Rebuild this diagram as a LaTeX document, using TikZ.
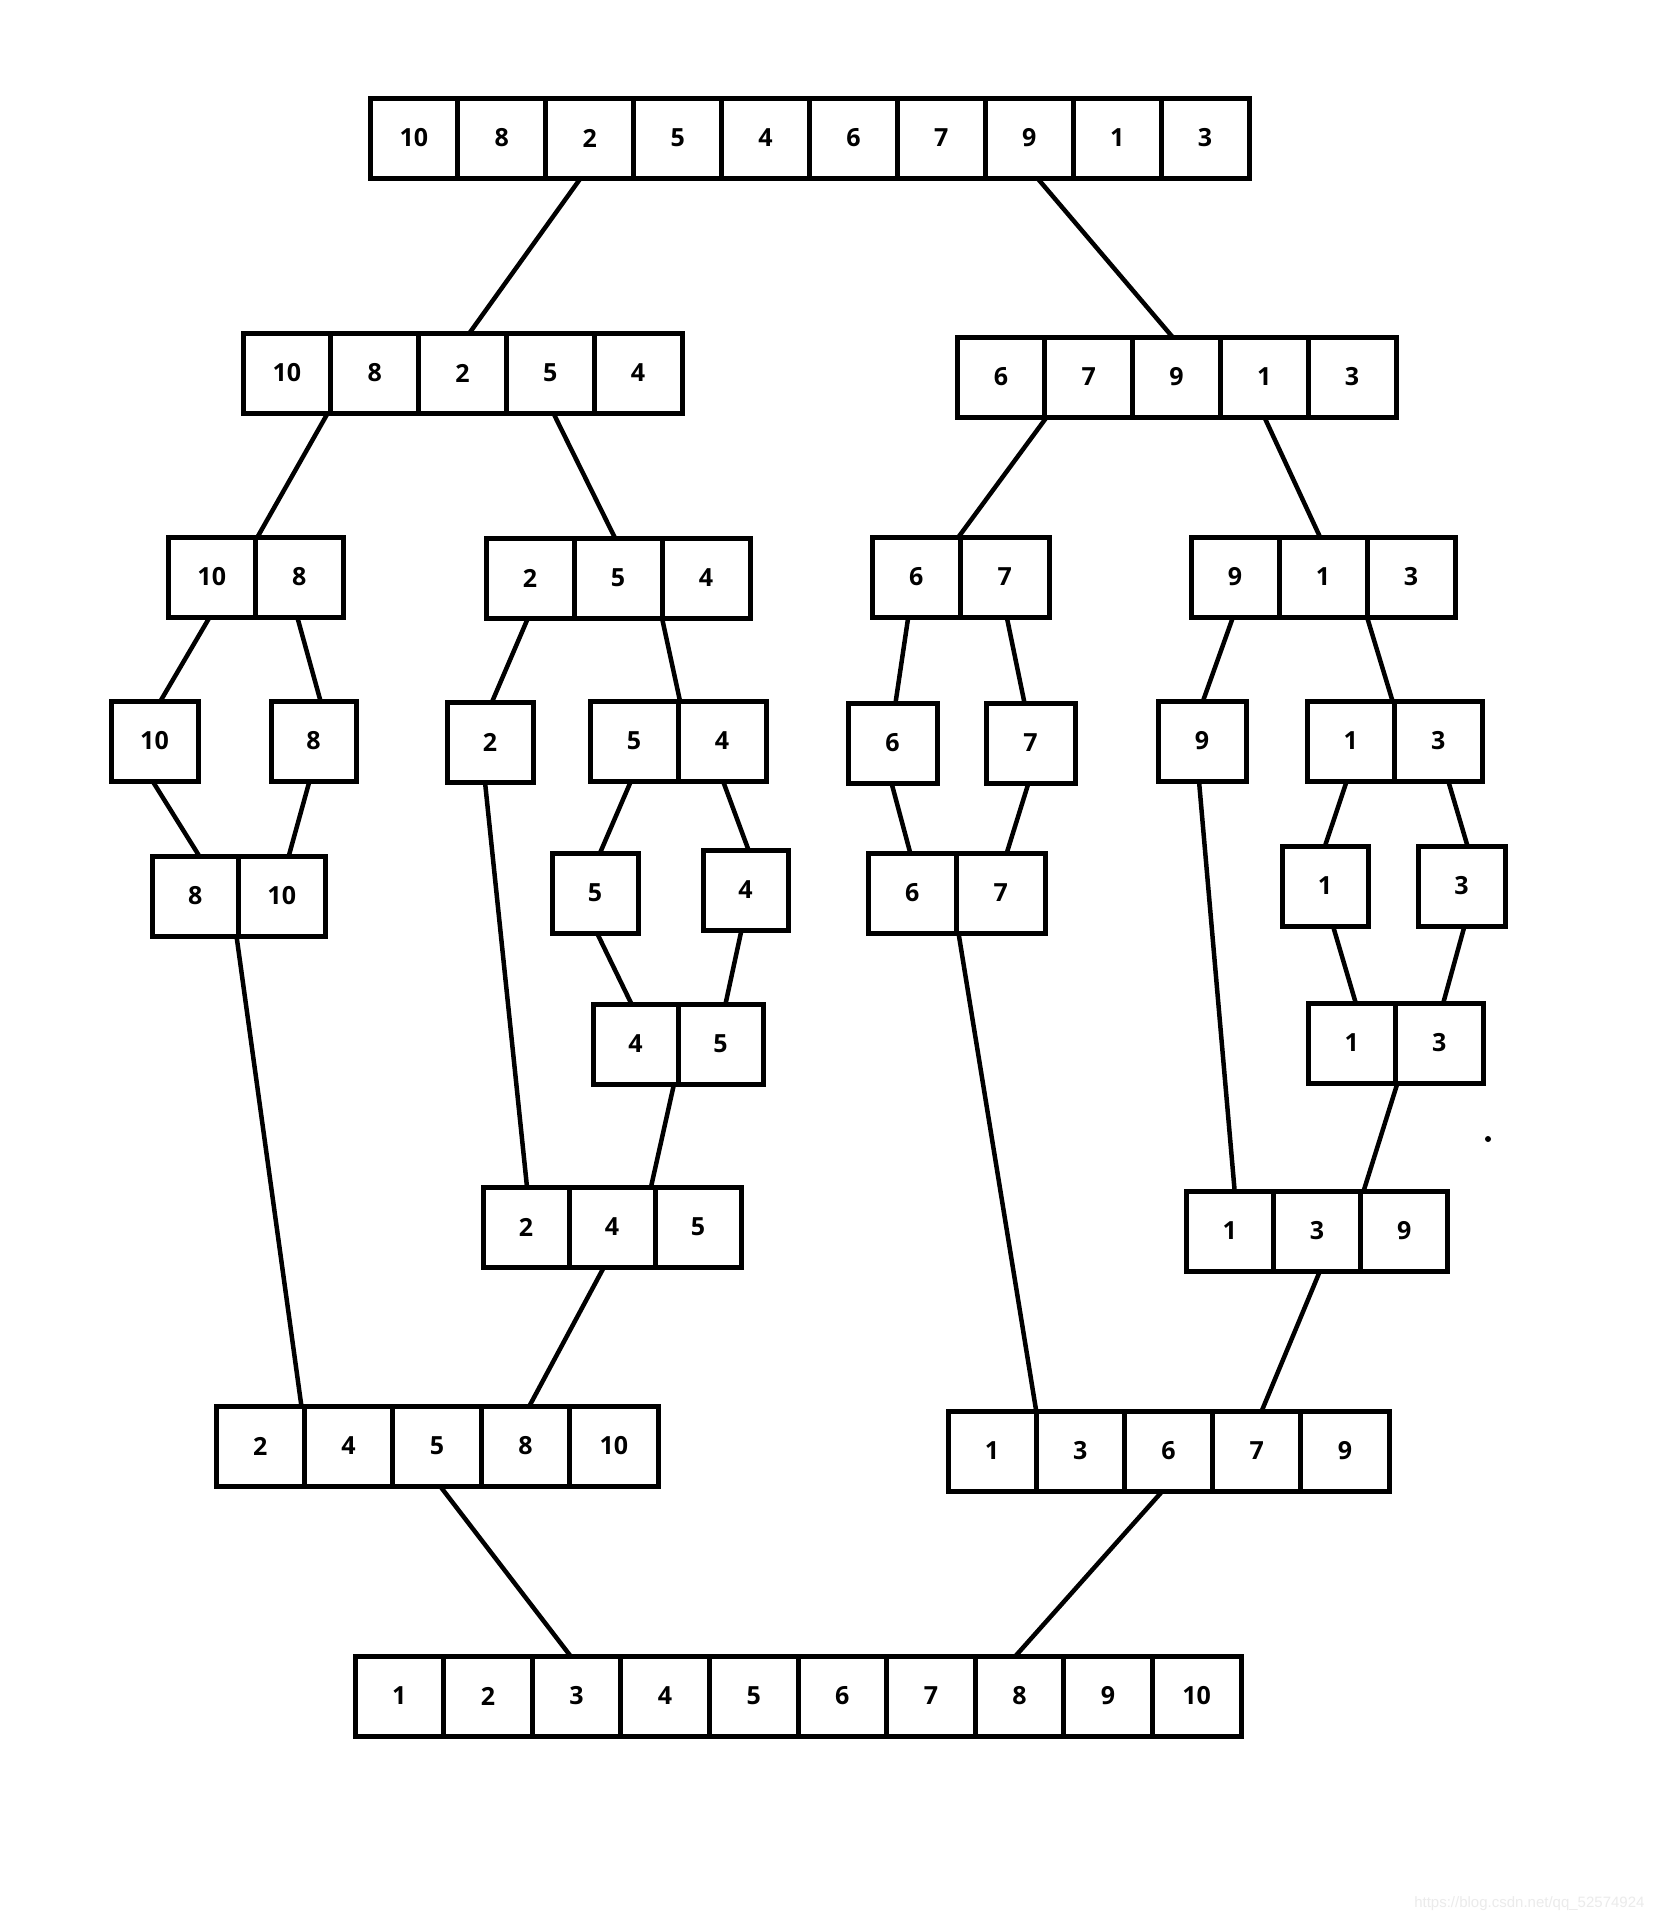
\documentclass[tikz,border=0pt]{standalone}
\usepackage{fontspec}
\setmainfont{Open Sans}
\newfontfamily\wmfont{Liberation Sans}
\usepackage{tikz}
\usetikzlibrary{calc}

% one row of boxes: name, left x, top y, box width, values
\newcommand{\cellrow}[5]{%
  \foreach \v [count=\i] in {#5}
    \node[cell, minimum width=#4] (#1\i) at ({#2+(\i-0.5)*#4}, {#3+40}) {\v};
}

\begin{document}
\begin{tikzpicture}[x=1pt, y=-1pt,
  cell/.style={draw, line width=5pt, minimum height=80, inner sep=0, outer sep=0,
    font=\fontsize{25}{30}\selectfont\bfseries},
  link/.style={line width=4.5pt}]
  \fill[white] (0,0) rectangle (1656,1920);
  \useasboundingbox (0,0) rectangle (1656,1920);

  % splitting
  \cellrow{all}{370}{98}{87.9}{10,8,2,5,4,6,7,9,1,3}
  \cellrow{L}{243}{333}{87.8}{10,8,2,5,4}
  \cellrow{R}{957}{337}{87.8}{6,7,9,1,3}
  \cellrow{LL}{168}{537}{87.5}{10,8}
  \cellrow{LR}{486}{538}{88}{2,5,4}
  \cellrow{RL}{872}{537}{88.5}{6,7}
  \cellrow{RR}{1191}{537}{88}{9,1,3}
  \cellrow{LLa}{111}{701}{87}{10}
  \cellrow{LLb}{271}{701}{85}{8}
  \cellrow{LRa}{447}{702}{86}{2}
  \cellrow{LRb}{590}{701}{88}{5,4}
  \cellrow{RLa}{848}{703}{89}{6}
  \cellrow{RLb}{986}{703}{89}{7}
  \cellrow{RRa}{1158}{701}{88}{9}
  \cellrow{RRb}{1307}{701}{87.5}{1,3}
  \cellrow{LRba}{552}{853}{86}{5}
  \cellrow{LRbb}{703}{850}{85}{4}
  \cellrow{RRba}{1282}{846}{86}{1}
  \cellrow{RRbb}{1418}{846}{87}{3}

  % merging
  \cellrow{mLL}{152}{856}{86.5}{8,10}
  \cellrow{mRL}{868}{853}{88.5}{6,7}
  \cellrow{mLRb}{593}{1004}{85}{4,5}
  \cellrow{mRRb}{1308}{1003}{87.5}{1,3}
  \cellrow{mLR}{483}{1187}{86}{2,4,5}
  \cellrow{mRR}{1186}{1191}{87.3}{1,3,9}
  \cellrow{mL}{216}{1406}{88.4}{2,4,5,8,10}
  \cellrow{mR}{948}{1411}{88.2}{1,3,6,7,9}
  \cellrow{sorted}{355}{1656}{88.6}{1,2,3,4,5,6,7,8,9,10}

  \draw[link] ($(all3.south)+(-9,0)$) -- ($(L3.north)+(7,0)$);
  \draw[link] ($(all8.south)+(8,0)$) -- ($(R3.north)+(-4,0)$);
  \draw[link] ($(L1.south east)+(-3,0)$) -- ($(LL1.north east)+(2,0)$);
  \draw[link] ($(L4.south)+(3,0)$) -- ($(LR2.north)+(-3,0)$);
  \draw[link] ($(R1.south east)+(2,0)$) -- ($(RL1.north east)+(-2,0)$);
  \draw[link] (R4.south) -- ($(RR2.north)+(-3,0)$);
  \draw[link] ($(LL1.south)+(-2,0)$) -- ($(LLa1.north)+(6,0)$);
  \draw[link] ($(LL2.south)+(-2,0)$) -- ($(LLb1.north)+(7,0)$);
  \draw[link] ($(LR1.south)+(-2,0)$) -- ($(LRa1.north)+(2,0)$);
  \draw[link] (LR2.south east) -- ($(LRb1.north east)+(2,0)$);
  \draw[link] ($(RL1.south)+(-8,0)$) -- ($(RLa1.north)+(3,0)$);
  \draw[link] ($(RL2.south)+(2,0)$) -- ($(RLb1.north)+(-6,0)$);
  \draw[link] ($(RR1.south)+(-2,0)$) -- ($(RRa1.north)+(1,0)$);
  \draw[link] (RR2.south east) -- ($(RRb1.north east)+(-2,0)$);
  \draw[link] ($(LLa1.south)+(-2,0)$) -- ($(mLL1.north)+(4,0)$);
  \draw[link] ($(LLb1.south)+(-4,0)$) -- ($(mLL2.north)+(7,0)$);
  \draw[link] ($(LRa1.south)+(-5,0)$) -- ($(mLR1.north)+(1,0)$);
  \draw[link] ($(LRb1.south)+(-3,0)$) -- ($(LRba1.north)+(5,0)$);
  \draw[link] ($(LRb2.south)+(1,0)$) -- ($(LRbb1.north)+(3,0)$);
  \draw[link] ($(RLa1.south)+(-1,0)$) -- ($(mRL1.north)+(-2,0)$);
  \draw[link] ($(RLb1.south)+(-2,0)$) -- ($(mRL2.north)+(6,0)$);
  \draw[link] ($(RRa1.south)+(-3,0)$) -- ($(mRR1.north)+(5,0)$);
  \draw[link] ($(RRb1.south)+(-4,0)$) -- (RRba1.north);
  \draw[link] ($(RRb2.south)+(10,0)$) -- ($(RRbb1.north)+(6,0)$);
  \draw[link] ($(mLL1.south east)+(-2,0)$) -- ($(mL1.north east)+(-3,0)$);
  \draw[link] ($(LRba1.south)+(2,0)$) -- ($(mLRb1.north)+(-4,0)$);
  \draw[link] ($(LRbb1.south)+(-4,0)$) -- ($(mLRb2.north)+(5,0)$);
  \draw[link] ($(mRL1.south east)+(2,0)$) -- (mR1.north east);
  \draw[link] ($(RRba1.south)+(8,0)$) -- ($(mRRb1.north)+(4,0)$);
  \draw[link] ($(RRbb1.south)+(3,0)$) -- ($(mRRb2.north)+(4,0)$);
  \draw[link] ($(mLRb1.south east)+(-4,0)$) -- ($(mLR2.north east)+(-4,0)$);
  \draw[link] ($(mRRb1.south east)+(2,0)$) -- ($(mRR2.north east)+(3,0)$);
  \draw[link] ($(mLR2.south)+(-8,0)$) -- ($(mL4.north)+(4,0)$);
  \draw[link] ($(mRR2.south)+(3,0)$) -- ($(mR4.north)+(5,0)$);
  \draw[link] ($(mL3.south)+(3,0)$) -- ($(sorted3.north)+(-6,0)$);
  \draw[link] ($(mR3.south)+(-6,0)$) -- ($(sorted8.north)+(-4,0)$);

  \fill (1488,1139) circle (3);
  \node[anchor=base east, text=black!8, font=\wmfont\fontsize{15}{18}\selectfont]
    (mark) at (1648,1907) {https://blog.csdn.net/qq\_52574924};
\end{tikzpicture}
\end{document}
